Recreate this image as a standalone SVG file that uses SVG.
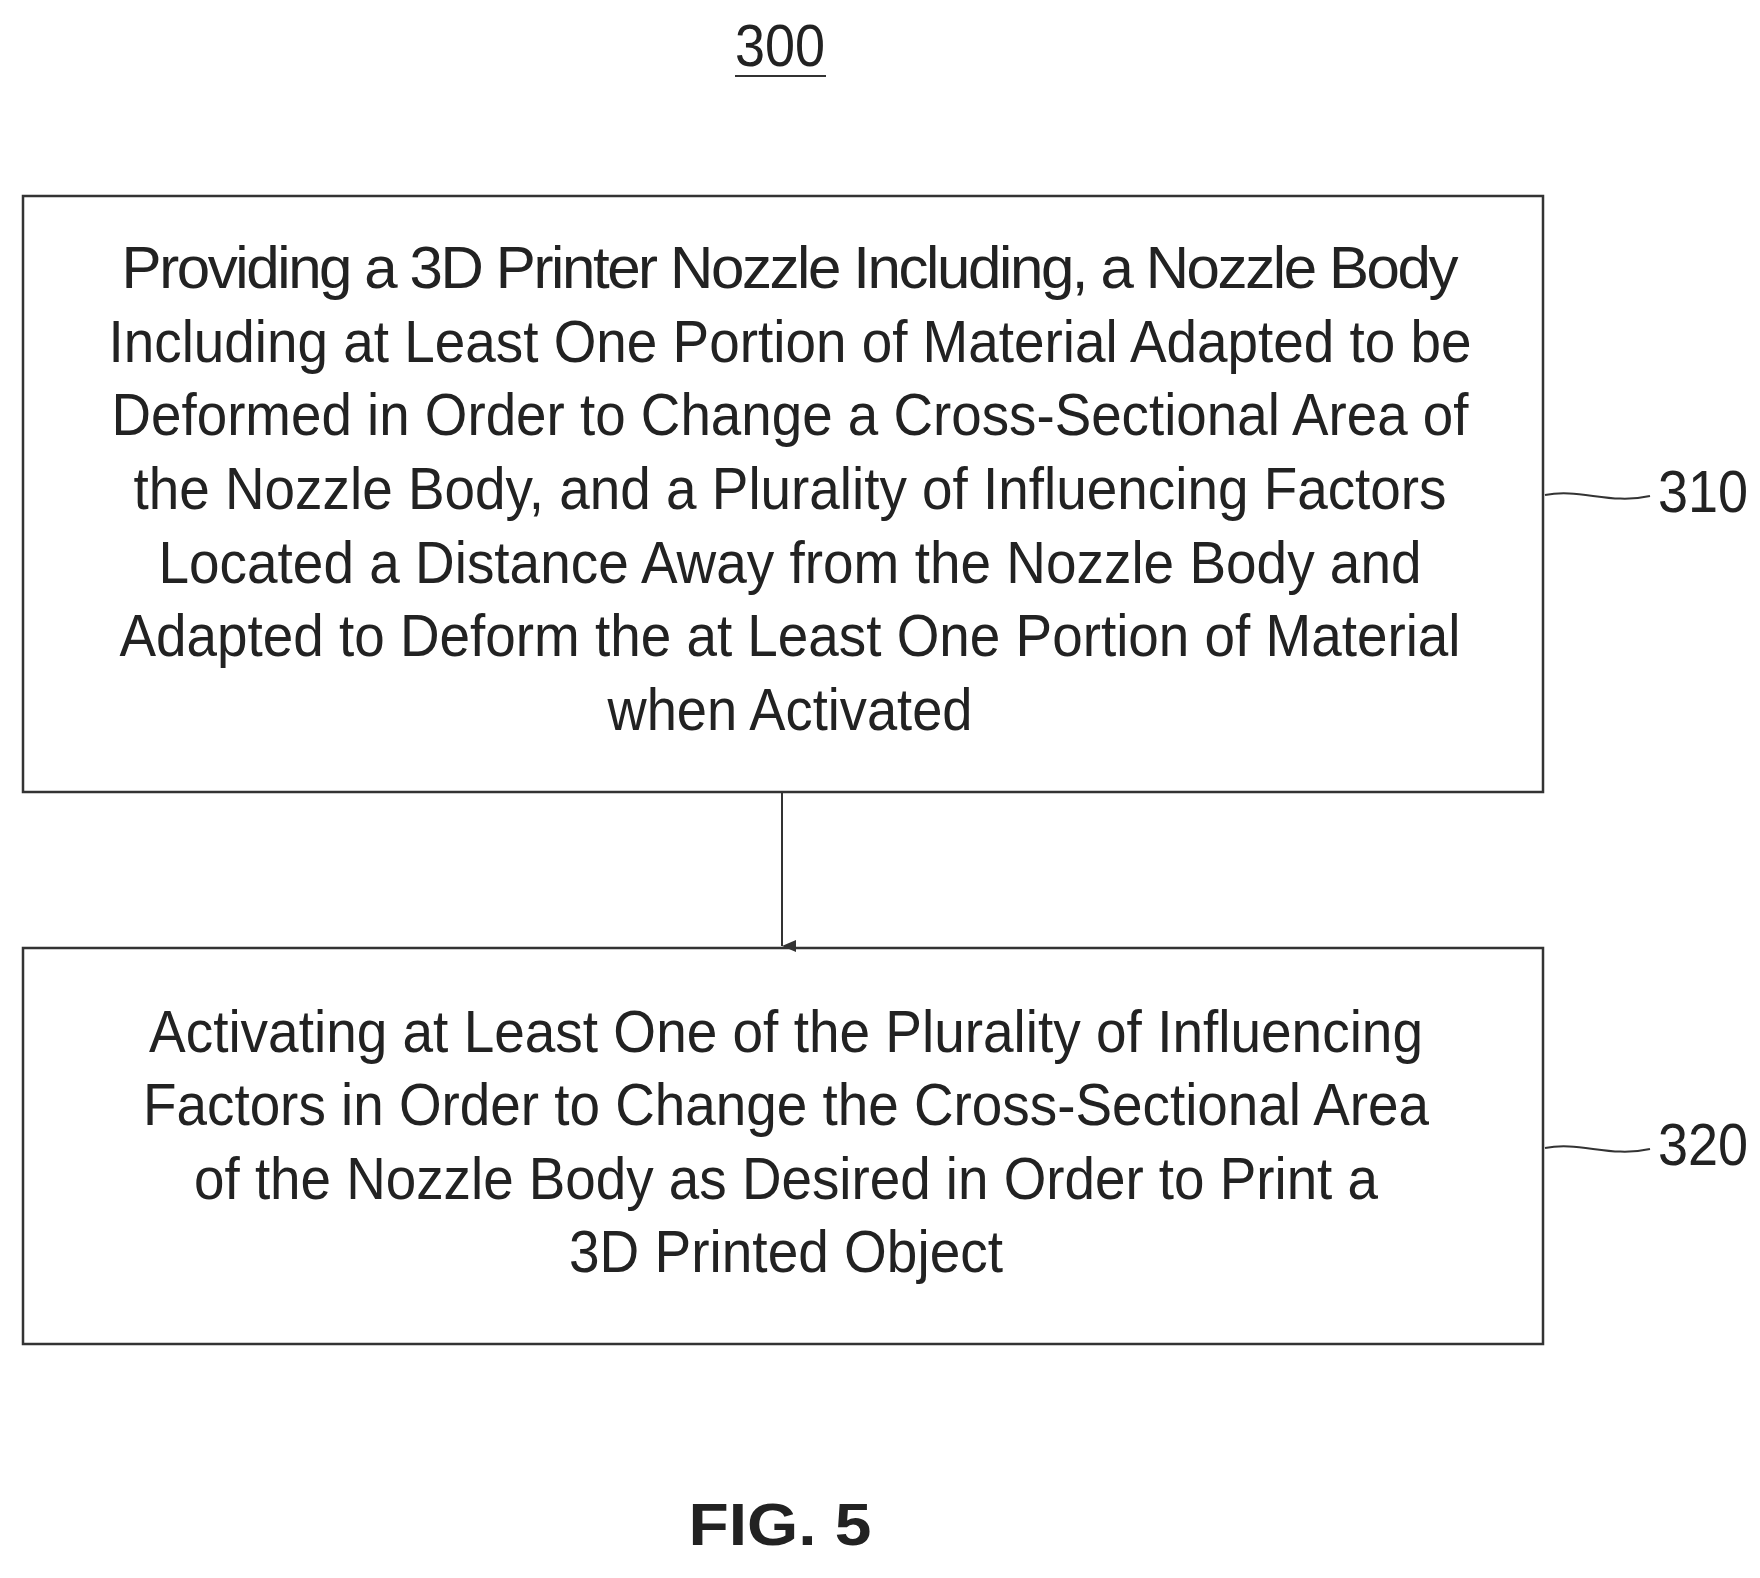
<svg xmlns="http://www.w3.org/2000/svg" width="1760" height="1578" viewBox="0 0 1760 1578">
<style>
.t{font-family:"Liberation Sans",Arial,sans-serif;font-size:60px;fill:#222;text-anchor:middle}
.b{fill:#fff;stroke:#333;stroke-width:2.5}
.l{fill:none;stroke:#333;stroke-width:2}
</style>
<defs><marker id="a" markerWidth="12" markerHeight="14" refX="6" refY="14" orient="auto" markerUnits="userSpaceOnUse"><path d="M0,0 L6,14 L12,0 Z" fill="#333"/></marker></defs>
<rect width="1760" height="1578" fill="#fff"/>
<g id="title"><text x="780" y="66" class="t" font-size="56" textLength="90" lengthAdjust="spacingAndGlyphs">300</text><line x1="735" y1="76" x2="826" y2="76" class="l"/></g>
<g id="n310"><rect x="23" y="196" width="1520" height="596" class="b"/>
<text class="t" lengthAdjust="spacingAndGlyphs"><tspan x="790" y="288" textLength="1337">Providing a 3D Printer Nozzle Including, a Nozzle Body</tspan></text>
<text class="t" x="790" y="362" textLength="1363" lengthAdjust="spacingAndGlyphs">Including at Least One Portion of Material Adapted to be</text>
<text class="t" x="790" y="435" textLength="1357" lengthAdjust="spacingAndGlyphs">Deformed in Order to Change a Cross-Sectional Area of</text>
<text class="t" x="790" y="509" textLength="1313" lengthAdjust="spacingAndGlyphs">the Nozzle Body, and a Plurality of Influencing Factors</text>
<text class="t" x="790" y="583" textLength="1263" lengthAdjust="spacingAndGlyphs">Located a Distance Away from the Nozzle Body and</text>
<text class="t" x="790" y="656" textLength="1341" lengthAdjust="spacingAndGlyphs">Adapted to Deform the at Least One Portion of Material</text>
<text class="t" x="790" y="730" textLength="365" lengthAdjust="spacingAndGlyphs">when Activated</text>
<path d="M1545,495 C1580,488 1610,505 1650,496" class="l"/>
<text class="t" x="1703" y="512" font-size="56" textLength="90" lengthAdjust="spacingAndGlyphs">310</text></g>
<g id="n320"><rect x="23" y="948" width="1520" height="396" class="b"/>
<text class="t" x="786" y="1052" textLength="1274" lengthAdjust="spacingAndGlyphs">Activating at Least One of the Plurality of Influencing</text>
<text class="t" x="786" y="1125" textLength="1286" lengthAdjust="spacingAndGlyphs">Factors in Order to Change the Cross-Sectional Area</text>
<text class="t" x="786" y="1199" textLength="1184" lengthAdjust="spacingAndGlyphs">of the Nozzle Body as Desired in Order to Print a</text>
<text class="t" x="786" y="1272" textLength="434" lengthAdjust="spacingAndGlyphs">3D Printed Object</text>
<path d="M1545,1148 C1580,1141 1610,1158 1650,1149" class="l"/>
<text class="t" x="1703" y="1165" font-size="56" textLength="90" lengthAdjust="spacingAndGlyphs">320</text></g>
<g id="connectors"><line x1="782" y1="793" x2="782" y2="946" class="l" marker-end="url(#a)"/></g>
<g id="fig"><text class="t" x="780" y="1545" font-size="76" font-weight="bold" fill="#111" textLength="183" lengthAdjust="spacingAndGlyphs">FIG. 5</text></g>
</svg>
